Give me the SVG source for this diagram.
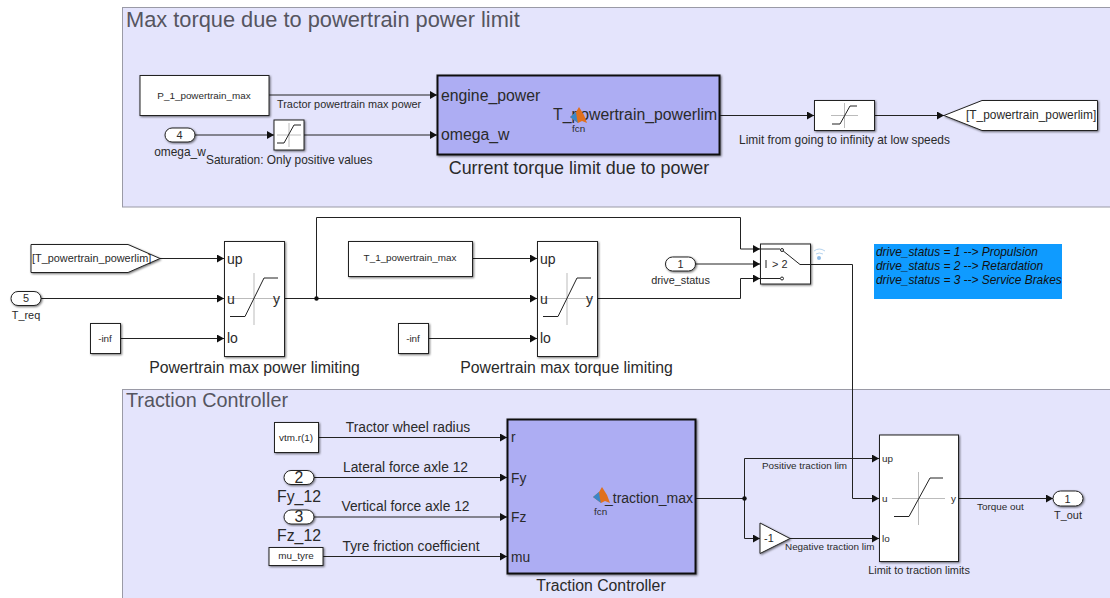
<svg xmlns="http://www.w3.org/2000/svg" width="1110" height="598" viewBox="0 0 1110 598">
<style>
text{font-family:"Liberation Sans",Arial,sans-serif;fill:#2a2a2a}
.area{fill:#e4e4fc;stroke:#9a9aa6;stroke-width:1}
.title{font-size:21.800px;fill:#555560}
.b{fill:#fff;stroke:#222;stroke-width:1;filter:url(#sh)}
.m{fill:#adadf3;stroke:#111;stroke-width:2;filter:url(#sh)}
.w{stroke:#222;stroke-width:1;fill:none}
.a{marker-end:url(#ar)}
.g{stroke:#bbb;stroke-width:1;fill:none}
.k{stroke:#222;stroke-width:1;fill:none}
.s9{font-size:9.900px}
.s10{font-size:10.900px}
.s12{font-size:11.900px}
.s13{font-size:13.800px}
.s14{font-size:14px}
.s16{font-size:15.800px}
.s18{font-size:17.900px}
.c{text-anchor:middle}
.i{font-style:italic;fill:#111}
</style>
<defs>
<filter id="sh" x="-20%" y="-20%" width="140%" height="140%"><feDropShadow dx="1" dy="1" stdDeviation="0.8" flood-color="#000" flood-opacity="0.55"/></filter>
<marker id="ar" markerUnits="userSpaceOnUse" markerWidth="8" markerHeight="8" refX="7" refY="4" orient="auto"><path d="M0 0L7 4L0 8Z" fill="#111"/></marker>
<g id="fcn"><path d="M-9 0L-3 -5L0 -10L5 -2L8 6L3 4L-1 6Z" fill="#e0701e"/><path d="M-9 0L-3 -5L-2 2L-1 6Z" fill="#3a86c8"/></g>
</defs>

<g id="area-power"><rect class="area" x="122.500" y="7.500" width="1000" height="199.500"/><text class="title" x="126" y="27">Max torque due to powertrain power limit</text></g>
<g id="area-traction"><rect class="area" x="122.500" y="389.500" width="1000" height="220"/><text class="title" x="126" y="407" style="font-size:19.800px">Traction Controller</text></g>

<g id="connectors">
<path class="w a" d="M269 95H437"/>
<path class="w a" d="M195 135H274"/>
<path class="w a" d="M304 135H437"/>
<path class="w a" d="M720 115.500H814"/>
<path class="w a" d="M874 115.500H944"/>
<path class="w a" d="M160 258.500H224"/>
<path class="w a" d="M41 298.500H224"/>
<path class="w a" d="M120 338.500H224"/>
<path class="w a" d="M284 298.500H537"/>
<path class="w a" d="M472 258.500H537"/>
<path class="w a" d="M428 338.500H537"/>
<path class="w a" d="M316.500 298.500V217.500H740.500V249H760"/>
<path class="w a" d="M597 298.500H740.500V278.500H760"/>
<path class="w a" d="M695 264H760"/>
<path class="w a" d="M810 264.500H852.500V498.500H879"/>
<path class="w a" d="M318 437.500H507"/>
<path class="w a" d="M314 477.500H507"/>
<path class="w a" d="M314 517H507"/>
<path class="w a" d="M323 556.500H507"/>
<path class="w a" d="M696 498.500H744.500V458.500H879"/>
<path class="w a" d="M744.500 498.500V538.500H760"/>
<path class="w a" d="M790 538.500H879"/>
<path class="w a" d="M959 498.500H1053"/>
<circle cx="316.500" cy="298.500" r="2.200" fill="#111"/>
<circle cx="744.500" cy="498.500" r="2.200" fill="#111"/>
</g>

<g id="P_1_powertrain_max"><rect class="b" x="140" y="75.500" width="129" height="40"/><text class="s9 c" x="204" y="98.500">P_1_powertrain_max</text></g>
<text id="lbl-tractor-power" class="s10" x="277" y="108">Tractor powertrain max power</text>
<g id="port-omega"><rect class="b" x="165" y="128" width="30" height="14" rx="7"/><text class="s10 c" x="179.500" y="139">4</text><text class="s12 c" x="180" y="156">omega_w</text></g>
<g id="sat-positive"><rect class="b" x="274" y="120" width="30" height="30"/><path class="g" d="M277 135H301M289 123V147"/><path class="k" d="M277 143H284L294 125H301"/><text class="s12" x="206" y="164">Saturation: Only positive values</text></g>
<g id="block-power"><rect class="m" x="437.500" y="75.500" width="282" height="79"/><text class="s16" x="441" y="101">engine_power</text><text class="s16" x="441" y="140">omega_w</text><text class="s16" x="553" y="120">T_powertrain_powerlim</text><use href="#fcn" x="579" y="117"/><text class="s9" x="572" y="132">fcn</text><text class="s18 c" x="579" y="174">Current torque limit due to power</text></g>
<g id="sat-lowspeed"><rect class="b" x="814.500" y="100.500" width="60" height="30"/><path class="g" d="M831 115.500H858M844.500 103V128"/><path class="k" d="M832 124H840L850 106H857"/><text class="s12 c" x="844.500" y="144">Limit from going to infinity at low speeds</text></g>
<g id="goto"><path class="b" d="M944 115.500L982 100.500H1097.500V130.500H982Z"/><text class="s12" x="966" y="119">[T_powertrain_powerlim]</text></g>

<g id="from"><path class="b" d="M31 244.500H128L160 258.500L128 272.500H31Z"/><text class="s10" x="32" y="262">[T_powertrain_powerlim]</text></g>
<g id="port-treq"><rect class="b" x="11" y="291.500" width="30" height="14" rx="7"/><text class="s10 c" x="26" y="302">5</text><text class="s10 c" x="26" y="319">T_req</text></g>
<g id="inf-1"><rect class="b" x="90.500" y="323.500" width="30" height="30"/><text class="s9 c" x="105" y="341.500">-inf</text></g>
<g id="limit-power"><rect class="b" x="224.500" y="241.500" width="60" height="115"/><path class="g" d="M228 298.500H280M254 273V325"/><path class="k" d="M230 316.500H245L264 278H278"/><text class="s14" x="227" y="264">up</text><text class="s14" x="227" y="304">u</text><text class="s14" x="227" y="343">lo</text><text class="s14" x="273" y="304">y</text><text class="s16 c" x="254.500" y="373">Powertrain max power limiting</text></g>
<g id="T_1_powertrain_max"><rect class="b" x="348.500" y="241.500" width="124" height="35"/><text class="s9 c" x="410" y="261">T_1_powertrain_max</text></g>
<g id="inf-2"><rect class="b" x="398.500" y="323.500" width="30" height="30"/><text class="s9 c" x="413" y="341.500">-inf</text></g>
<g id="limit-torque"><rect class="b" x="537.500" y="241.500" width="60" height="115"/><path class="g" d="M541 298.500H593M567 273V325"/><path class="k" d="M543 316.500H558L577 278H591"/><text class="s14" x="540" y="264">up</text><text class="s14" x="540" y="304">u</text><text class="s14" x="540" y="343">lo</text><text class="s14" x="586" y="304">y</text><text class="s16 c" x="566.500" y="373">Powertrain max torque limiting</text></g>
<g id="port-drive"><rect class="b" x="665.500" y="257" width="30" height="14" rx="7"/><text class="s10 c" x="680.500" y="268">1</text><text class="s10 c" x="680.500" y="283.500">drive_status</text></g>
<g id="switch"><rect class="b" x="760.500" y="244" width="50" height="40"/><path class="k" d="M760 249H780M760 278.500H780M782 250L800 264.500H810M766 260V268"/><circle cx="782" cy="250" r="1.500" fill="#fff" stroke="#222"/><circle cx="782" cy="278.500" r="1.500" fill="#fff" stroke="#222"/><text class="s10" x="772" y="268">&gt; 2</text><path d="M814 251Q819 247 825 251M816 254Q819 252 823 254" stroke="#b5d3ee" fill="none"/><circle cx="819" cy="258" r="2" fill="#8ebbe6"/></g>
<g id="note"><rect x="874" y="244" width="188" height="55" fill="#0f9bff"/><text class="s12 i" x="876" y="256">drive_status = 1 --&gt; Propulsion</text><text class="s12 i" x="876" y="270">drive_status = 2 --&gt; Retardation</text><text class="s12 i" x="876" y="283.500">drive_status = 3 --&gt; Service Brakes</text></g>

<g id="vtm"><rect class="b" x="274.500" y="422.500" width="44" height="30"/><text class="s9 c" x="296" y="441">vtm.r(1)</text></g>
<text id="lbl-radius" class="s13 c" x="408" y="432">Tractor wheel radius</text>
<g id="port-fy"><rect class="b" x="284" y="470.500" width="30" height="14" rx="7"/><text class="s16 c" x="299" y="483">2</text><text class="s16 c" x="299" y="502">Fy_12</text></g>
<text id="lbl-lat" class="s13 c" x="405.500" y="472">Lateral force axle 12</text>
<g id="port-fz"><rect class="b" x="284" y="510" width="30" height="14" rx="7"/><text class="s16 c" x="299" y="522">3</text><text class="s16 c" x="299" y="541">Fz_12</text></g>
<text id="lbl-vert" class="s13 c" x="405.500" y="511">Vertical force axle 12</text>
<g id="mu"><rect class="b" x="269" y="547.500" width="54" height="18"/><text class="s9 c" x="296" y="559">mu_tyre</text></g>
<text id="lbl-mu" class="s13 c" x="411" y="551">Tyre friction coefficient</text>
<g id="block-traction"><rect class="m" x="507.500" y="419.500" width="188" height="154"/><text class="s13" x="511" y="442">r</text><text class="s13" x="511" y="483">Fy</text><text class="s13" x="511" y="522">Fz</text><text class="s13" x="511" y="562">mu</text><text class="s14" x="605" y="503">_traction_max</text><use href="#fcn" x="602" y="497"/><text class="s9" x="594" y="515">fcn</text><text class="s16 c" x="601" y="591">Traction Controller</text></g>
<g id="limit-traction"><rect class="b" x="879.500" y="435" width="79" height="126.500"/><path class="g" d="M892 498.500H945M918.500 472V525"/><path class="k" d="M894 516.500H909L930 478H943"/><text class="s9" x="882" y="462">up</text><text class="s9" x="882" y="502">u</text><text class="s9" x="882" y="542">lo</text><text class="s9" x="951" y="502">y</text><text class="s10 c" x="919" y="574">Limit to traction limits</text></g>
<text id="lbl-pos" class="s9" x="762" y="469">Positive traction lim</text>
<g id="gain"><path class="b" d="M760 523V553.500L790 538.500Z"/><text class="s10" x="764" y="542">-1</text></g>
<text id="lbl-neg" class="s9" x="785" y="550">Negative traction lim</text>
<text id="lbl-torque" class="s9" x="977" y="510">Torque out</text>
<g id="port-out"><rect class="b" x="1053" y="491" width="30" height="15" rx="7.500"/><text class="s10 c" x="1067.500" y="502.500">1</text><text class="s10 c" x="1068" y="519">T_out</text></g>
</svg>
